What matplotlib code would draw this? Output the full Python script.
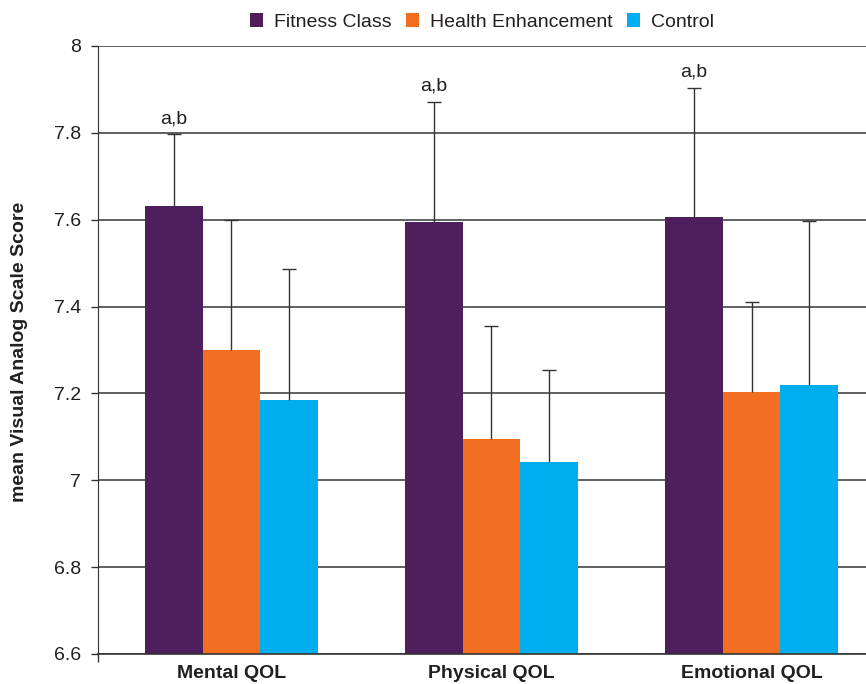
import matplotlib.pyplot as plt
import numpy as np
from matplotlib.patches import Patch

plt.rcParams['font.family'] = ['Liberation Sans', 'DejaVu Sans']

categories = ['Mental QOL', 'Physical QOL', 'Emotional QOL']
groups = ['Fitness Class', 'Health Enhancement', 'Control']
colors = ['#4E1F5C', '#F26F22', '#00AEEF']

fitness = [7.632, 7.594, 7.606]
health = [7.299, 7.096, 7.204]
control = [7.186, 7.041, 7.220]
fitness_err = [0.165, 0.278, 0.298]
health_err = [0.301, 0.260, 0.207]
control_err = [0.301, 0.214, 0.376]
sig_labels = ['a,b', 'a,b', 'a,b']

yticks = [6.6, 6.8, 7.0, 7.2, 7.4, 7.6, 7.8, 8.0]
ytick_labels = ['6.6', '6.8', '7', '7.2', '7.4', '7.6', '7.8', '8']

means = [fitness, health, control]
errs = [fitness_err, health_err, control_err]

txt = '#231F20'
fig = plt.figure(figsize=(8.66, 6.84), dpi=100)
ax = fig.add_axes([98/866, 1-654/684, 1-98/866, (654-46)/684])

x = np.arange(len(categories))
w = 0.222
base = 6.6
for i in range(3):
    pos = x + (i-1)*w
    vals = np.array(means[i])
    ax.bar(pos, vals-base, w, bottom=base, color=colors[i], zorder=2)
    eb = ax.errorbar(pos, vals, yerr=[np.zeros(3), errs[i]], fmt='none',
                     ecolor='#333333', elinewidth=1.0, capsize=5, capthick=1.0, zorder=3)
    eb[1][0].set_visible(False)

# significance labels above fitness class error bars
for j in range(3):
    ax.annotate(sig_labels[j], (x[j]-w, fitness[j]+fitness_err[j]),
                xytext=(0, 8), textcoords='offset points',
                ha='center', va='baseline', fontsize=14, color=txt)

ax.set_ylim(6.6, 8.0)
ax.set_xlim(-0.513, 2.44)
ax.set_yticks(yticks)
ax.set_yticklabels(ytick_labels)
ax.set_xticks(x)
ax.set_xticklabels(categories, fontweight='bold')
ax.tick_params(axis='x', length=0, pad=8, labelsize=14, labelcolor=txt)
ax.tick_params(axis='y', length=5, width=1, pad=7, labelsize=14, labelcolor=txt, color='#333333')
ax.set_xticks([-0.513], minor=True)
ax.tick_params(axis='x', which='minor', length=6, width=1, color='#333333')

ax.yaxis.grid(True, color='#454545', linewidth=1.2)
ax.set_axisbelow(True)
for s in ['top', 'right']:
    ax.spines[s].set_visible(False)
ax.spines['left'].set_color('#333333')
ax.spines['bottom'].set_color('#333333')
ax.spines['bottom'].set_linewidth(1.2)

fig.text(20/866, 1-352/684, 'mean Visual Analog Scale Score', rotation=90,
         ha='center', va='center', fontsize=14, fontweight='bold', color=txt)

handles = [Patch(facecolor=c, edgecolor='none') for c in colors]
fig.legend(handles, groups, loc='center', bbox_to_anchor=(482/866, 1-22/684),
           ncol=3, frameon=False, fontsize=14, handlelength=0.67, handleheight=0.67,
           handletextpad=0.57, columnspacing=0.72, labelcolor=txt)

fig.savefig('out.png', dpi=100)
